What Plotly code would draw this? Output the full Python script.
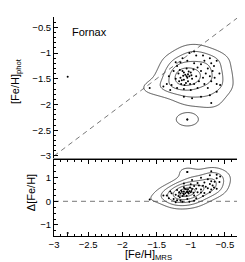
import numpy as np
import plotly.graph_objects as go

# ---- data ----
mrs = [
    # core
    -1.18, -1.15, -1.12, -1.10, -1.08, -1.06, -1.04, -1.02, -1.00, -0.98, -1.14, -1.09, -1.05, -1.11, -1.16,
    -0.96, -1.03, -1.07, -1.13, -1.01, -0.99, -1.10, -1.06, -1.17, -1.04,
    # middle ring
    -1.25, -1.22, -1.28, -1.20, -1.15, -1.05, -0.95, -0.90, -0.85, -0.92, -0.88, -0.82, -0.78, -0.75, -0.72,
    -0.70, -0.68, -0.65, -0.80, -0.75, -0.90, -1.00, -1.10, -1.20, -0.85, -0.62, -0.66, -0.95, -0.80, -0.70,
    # outer
    -1.35, -1.32, -1.30, -1.22, -1.12, -1.02, -0.92, -0.82, -0.72, -0.62, -0.58, -0.57, -0.62, -0.72, -0.85,
    -0.98, -1.10, -0.70, -1.40, -0.95,
    # isolated
    -2.80, -1.60, -1.05, -1.05,
]
phot = [
    -1.40, -1.48, -1.35, -1.52, -1.42, -1.30, -1.55, -1.45, -1.38, -1.50, -1.60, -1.62, -1.48, -1.44, -1.33,
    -1.32, -1.36, -1.58, -1.53, -1.60, -1.43, -1.38, -1.45, -1.55, -1.41,
    -1.35, -1.50, -1.62, -1.25, -1.18, -1.15, -1.20, -1.28, -1.35, -1.45, -1.55, -1.48, -1.40, -1.30, -1.45,
    -1.55, -1.35, -1.48, -1.60, -1.68, -1.68, -1.72, -1.70, -1.68, -1.22, -1.60, -1.25, -1.60, -1.15, -1.20,
    -1.60, -1.45, -1.72, -1.18, -1.10, -1.00, -1.05, -1.05, -1.10, -1.15, -1.40, -1.62, -1.75, -1.82, -1.85,
    -1.88, -1.85, -1.97, -1.65, -0.97,
    -1.46, -1.68, -2.29, -2.29,
]
delta = [m - p for m, p in zip(mrs, phot)]  # Δ[Fe/H] = [Fe/H]_MRS − [Fe/H]_phot

X_RANGE = [-3.0, -0.25]
Y_TOP_RANGE = [-3.04, -0.3]
Y_BOT_RANGE = [-1.47, 1.75]
X_TICKS = [-3, -2.5, -2, -1.5, -1, -0.5]
Y_TOP_TICKS = [-3, -2.5, -2, -1.5, -1, -0.5]
Y_BOT_TICKS = [-1, 0, 1]
LEVELS_TOP = [0.05, 0.2, 0.42, 0.68]
LEVELS_BOT = [0.06, 0.18, 0.36, 0.58, 0.82]


def kde(xs, ys, gx, gy, hx, hy):
    X, Y = np.meshgrid(gx, gy)
    Z = np.zeros_like(X)
    for a, b in zip(xs, ys):
        Z += np.exp(-0.5 * ((X - a) / hx) ** 2 - 0.5 * ((Y - b) / hy) ** 2)
    return Z / Z.max()


gx = np.linspace(X_RANGE[0], X_RANGE[1], 260)
gy_top = np.linspace(Y_TOP_RANGE[0], Y_TOP_RANGE[1], 260)
gy_bot = np.linspace(Y_BOT_RANGE[0], Y_BOT_RANGE[1], 260)
Z_top = kde(mrs, phot, gx, gy_top, 0.14, 0.11)
Z_bot = kde(mrs, delta, gx, gy_bot, 0.12, 0.2)

FONT = "Liberation Sans, Arial, sans-serif"
LINEC = "#3a3a3a"

fig = go.Figure()


def add_contours(Z, gy, levels, xa, ya):
    for lev in levels:
        fig.add_trace(go.Contour(
            x=gx, y=gy, z=Z, xaxis=xa, yaxis=ya,
            autocontour=False,
            contours=dict(coloring="lines", start=lev, end=lev, size=0.1, showlabels=False),
            colorscale=[[0, LINEC], [1, LINEC]], showscale=False,
            line=dict(width=0.9, smoothing=1.0), hoverinfo="skip",
        ))


add_contours(Z_top, gy_top, LEVELS_TOP, "x", "y")
add_contours(Z_bot, gy_bot, LEVELS_BOT, "x2", "y2")

# reference lines
fig.add_trace(go.Scatter(x=X_RANGE, y=X_RANGE, mode="lines", xaxis="x", yaxis="y",
                         line=dict(color="#555", width=0.8, dash="5px,4px"), hoverinfo="skip"))
fig.add_trace(go.Scatter(x=X_RANGE, y=[0, 0], mode="lines", xaxis="x2", yaxis="y2",
                         line=dict(color="#555", width=0.8, dash="5px,4px"), hoverinfo="skip"))

# points
fig.add_trace(go.Scatter(x=mrs, y=phot, mode="markers", xaxis="x", yaxis="y",
                         marker=dict(color="black", size=2)))
fig.add_trace(go.Scatter(x=mrs, y=delta, mode="markers", xaxis="x2", yaxis="y2",
                         marker=dict(color="black", size=2)))

tickfont = dict(family=FONT, size=9.5, color="black")
minor = dict(ticks="inside", ticklen=2, tickcolor="black", dtick=0.1, showgrid=False)

common = dict(showgrid=False, zeroline=False, ticks="inside", tickcolor="black",
              ticklen=4, tickwidth=1, tickfont=tickfont)

titlefont = dict(family=FONT, size=11, color="black")

fig.update_layout(
    width=245, height=262,
    margin=dict(l=46, r=11, t=9, b=34),
    paper_bgcolor="white", plot_bgcolor="white",
    showlegend=False,
    font=dict(family=FONT, color="black"),
    xaxis=dict(domain=[0, 1], anchor="y", range=X_RANGE, showgrid=False, zeroline=False,
               showticklabels=False, ticks="", showline=True, linecolor="#8c8c8c", linewidth=2),
    xaxis3=dict(overlaying="x", anchor="y", side="top", range=X_RANGE, tickvals=X_TICKS,
                showticklabels=False, showline=True, linecolor="black", linewidth=1,
                minor=dict(minor, tick0=-3), **common),
    yaxis=dict(domain=[0.356, 1], anchor="x", range=Y_TOP_RANGE, tickvals=Y_TOP_TICKS,
               showline=True, linecolor="black", linewidth=1, mirror="ticks",
               minor=dict(minor, tick0=-3), **common),
    xaxis2=dict(domain=[0, 1], anchor="y2", range=X_RANGE, tickvals=X_TICKS,
                showline=True, linecolor="black", linewidth=1, mirror="ticks",
                minor=dict(minor, tick0=-3), **common),
    yaxis2=dict(domain=[0, 0.347], anchor="x2", range=Y_BOT_RANGE, tickvals=Y_BOT_TICKS,
                showline=True, linecolor="black", linewidth=1, mirror="ticks",
                minor=dict(ticks="inside", ticklen=2, tickcolor="black", dtick=0.25, tick0=0),
                **common),
    annotations=[
        dict(text="Fornax", x=-2.77, y=-0.6, xref="x", yref="y", xanchor="left",
             yanchor="middle", showarrow=False, font=dict(family=FONT, size=11, color="black")),
        dict(text="[Fe/H]<sub>phot</sub>", x=-0.205, y=0.71, xref="paper", yref="paper",
             xanchor="center", yanchor="middle", textangle=-90, showarrow=False, font=titlefont),
        dict(text="Δ[Fe/H]", x=-0.122, y=0.196, xref="paper", yref="paper",
             xanchor="center", yanchor="middle", textangle=-90, showarrow=False, font=titlefont),
        dict(text="[Fe/H]<sub>MRS</sub>", x=0.5, y=-0.085, xref="paper", yref="paper",
             xanchor="center", yanchor="middle", showarrow=False, font=titlefont),
    ],
)

fig.write_html("out.html")
